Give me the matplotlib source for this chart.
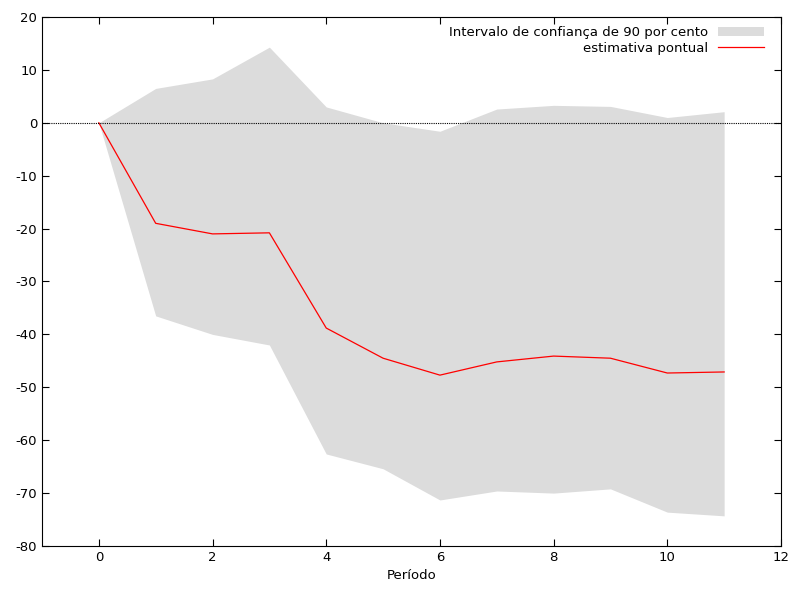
import matplotlib.pyplot as plt

periodo = [0, 1, 2, 3, 4, 5, 6, 7, 8, 9, 10, 11]
superior = [0, 6.5, 8.3, 14.3, 3.0, 0.0, -1.6, 2.6, 3.3, 3.1, 1.0, 2.1]
inferior = [0, -36.5, -40.0, -42.0, -62.6, -65.4, -71.3, -69.6, -70.0, -69.2, -73.6, -74.3]
pontual = [0, -19.0, -21.0, -20.8, -38.8, -44.5, -47.7, -45.2, -44.1, -44.5, -47.3, -47.1]

plt.rcParams['font.family'] = 'DejaVu Sans'
plt.rcParams['font.size'] = 9.5
plt.rcParams['axes.unicode_minus'] = False

fig = plt.figure(figsize=(7.92, 5.94), dpi=100)
ax = fig.add_axes([42/792, 1 - 546/594, (781-42)/792, (546-17)/594])

ax.fill_between(periodo, inferior, superior, color='#dcdcdc', lw=0,
                label='Intervalo de confiança de 90 por cento')
ax.plot(periodo, pontual, color='red', lw=0.9, label='estimativa pontual')
ax.axhline(0, color='black', lw=0.8, ls=(0, (1, 1)))

ax.set_xlim(-1, 12)
ax.set_ylim(-80, 20)
ax.set_xticks(range(0, 13, 2))
ax.set_yticks(range(-80, 21, 10))
ax.tick_params(direction='in', top=True, right=True, length=5)
ax.set_xlabel('Período')

ax.legend(loc='upper right', frameon=False, markerfirst=False,
          handlelength=3.5, borderaxespad=0.3, labelspacing=0.2,
          bbox_to_anchor=(0.99, 1.0))

fig.savefig('out.png', dpi=100)
